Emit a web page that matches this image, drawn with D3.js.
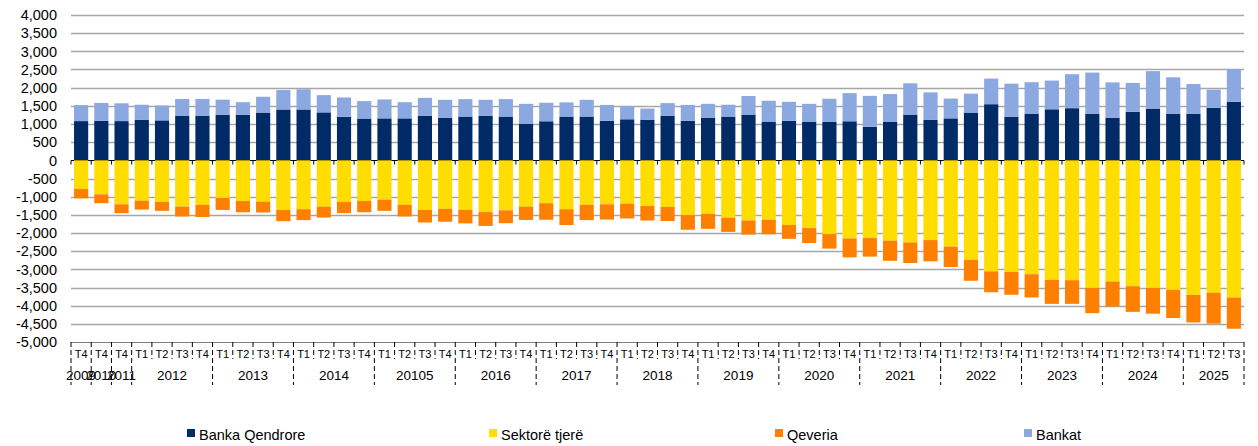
<!DOCTYPE html>
<html>
<head>
<meta charset="utf-8">
<script src="https://cdn.jsdelivr.net/npm/d3@7"></script>
<style>
  html, body { margin: 0; padding: 0; background: #fff; }
  svg { display: block; font-family: "Liberation Sans", Arial, sans-serif; }
</style>
</head>
<body>
<svg id="chart" width="1258" height="446"></svg>
<script>
// ---- Data ----
const quarters = ["T4","T4","T4",
  "T1","T2","T3","T4","T1","T2","T3","T4","T1","T2","T3","T4","T1","T2","T3","T4",
  "T1","T2","T3","T4","T1","T2","T3","T4","T1","T2","T3","T4","T1","T2","T3","T4",
  "T1","T2","T3","T4","T1","T2","T3","T4","T1","T2","T3","T4","T1","T2","T3","T4",
  "T1","T2","T3","T4","T1","T2","T3"];
const yearLabels = ["2009","2010","2011","2012","2013","2014","20105","2016","2017","2018","2019","2020","2021","2022","2023","2024","2025"];
const yearSpans  = [1,1,1,4,4,4,4,4,4,4,4,4,4,4,4,4,3];

const bankaQendrore = [1080,1090,1080,1120,1100,1230,1230,1250,1250,1315,
  1400,1400,1320,1200,1150,1155,1155,1230,1175,1205,
  1230,1205,1010,1075,1205,1205,1090,1130,1120,1230,
  1090,1175,1205,1260,1055,1090,1065,1055,1075,925,
  1055,1260,1120,1155,1315,1545,1195,1285,1405,1435,
  1285,1175,1335,1425,1285,1285,1445,1610];
const bankat = [440,490,490,410,410,460,460,420,350,435,
  535,555,475,530,480,520,445,490,490,480,
  435,480,545,510,390,460,435,360,305,345,
  435,380,325,510,585,520,490,640,775,850,
  770,860,750,545,520,705,915,865,790,935,
  1130,970,795,1030,1000,815,500,900];
const sektoreTjere = [-790,-935,-1210,-1110,-1145,-1275,-1225,-1035,-1120,-1135,
  -1365,-1345,-1275,-1145,-1120,-1080,-1225,-1365,-1335,-1365,
  -1425,-1375,-1275,-1180,-1345,-1225,-1210,-1190,-1255,-1280,
  -1510,-1475,-1580,-1655,-1635,-1780,-1865,-2030,-2150,-2140,
  -2210,-2260,-2195,-2375,-2740,-3055,-3070,-3135,-3290,-3300,
  -3510,-3335,-3465,-3510,-3565,-3700,-3645,-3775];
const qeveria = [-255,-245,-245,-245,-245,-270,-335,-330,-310,-300,
  -310,-300,-300,-310,-310,-310,-320,-345,-355,-370,
  -380,-355,-365,-455,-435,-420,-420,-410,-400,-390,
  -400,-410,-390,-390,-400,-380,-410,-400,-520,-510,
  -555,-565,-585,-560,-575,-575,-630,-640,-660,-650,
  -695,-685,-705,-710,-775,-760,-850,-860];

const seriesNames = ["Banka Qendrore","Sektorë tjerë","Qeveria","Bankat"];
const seriesColors = ["#002B66","#FFDD00","#FF7F00","#8CA8E0"];
const yTicks = [4000,3500,3000,2500,2000,1500,1000,500,0,-500,-1000,-1500,-2000,-2500,-3000,-3500,-4000,-4500,-5000];

// ---- Build table ----
const table = quarters.map((q, i) => ({
  idx: i,
  "Banka Qendrore": bankaQendrore[i],
  "Sektorë tjerë": sektoreTjere[i],
  "Qeveria": qeveria[i],
  "Bankat": bankat[i]
}));

(function draw() {
const svg = d3.select("#chart");
const pl = 71, pr = 1244, pt = 15, pb = 342;

const x = d3.scaleBand().domain(d3.range(quarters.length)).range([pl, pr])
  .paddingInner(0.3).paddingOuter(0.15);
const y = d3.scaleLinear().domain([-5000, 4000]).range([pb, pt]);
const boundary = i => pl + i * (pr - pl) / quarters.length;

// gridlines
svg.append("g").selectAll("line").data(yTicks.filter(v => v !== 0 && v !== -5000)).join("line")
  .attr("x1", pl).attr("x2", pr)
  .attr("y1", d => Math.round(y(d)) + 0.5).attr("y2", d => Math.round(y(d)) + 0.5)
  .attr("stroke", "#a6a6a6").attr("stroke-width", 1.3);

// y labels
const fmt = d3.formatLocale({decimal: ".", thousands: ",", grouping: [3], currency: ["", ""], minus: "-"}).format(",");
svg.append("g").selectAll("text").data(yTicks).join("text")
  .attr("x", 57).attr("y", d => y(d)).attr("dy", "0.36em")
  .attr("text-anchor", "end").attr("font-size", 14.5).attr("fill", "#000")
  .text(d => fmt(d));

// zero axis line with ticks
const y0 = Math.round(y(0)) + 0.5;
svg.append("line").attr("x1", pl).attr("x2", pr).attr("y1", y0).attr("y2", y0)
  .attr("stroke", "#000").attr("stroke-width", 1.2);
svg.append("g").selectAll("line").data(d3.range(quarters.length + 1)).join("line")
  .attr("x1", i => boundary(i)).attr("x2", i => boundary(i))
  .attr("y1", y0).attr("y2", y0 + 4)
  .attr("stroke", "#000").attr("stroke-width", 1);

// stacked bars
const stack = d3.stack().keys(seriesNames).offset(d3.stackOffsetDiverging);
const layers = stack(table);
const color = d3.scaleOrdinal().domain(seriesNames).range(seriesColors);
svg.append("g").selectAll("g").data(layers).join("g")
  .attr("fill", d => color(d.key))
  .selectAll("rect").data(d => d).join("rect")
  .attr("x", d => x(d.data.idx))
  .attr("width", x.bandwidth())
  .attr("y", d => y(Math.max(d[0], d[1])))
  .attr("height", d => Math.abs(y(d[0]) - y(d[1])));

// bottom axis
svg.append("line").attr("x1", pl).attr("x2", pr).attr("y1", pb + 0.5).attr("y2", pb + 0.5)
  .attr("stroke", "#808080").attr("stroke-width", 1.2);

// year boundaries
const yearStarts = [];
let acc = 0;
yearSpans.forEach(s => { yearStarts.push(acc); acc += s; });
const yearBoundarySet = new Set([...yearStarts, quarters.length]);

svg.append("g").selectAll("line").data(d3.range(quarters.length + 1)).join("line")
  .attr("x1", i => boundary(i)).attr("x2", i => boundary(i))
  .attr("y1", pb).attr("y2", i => yearBoundarySet.has(i) ? 385 : 359)
  .attr("stroke", "#000").attr("stroke-width", 1)
  .attr("stroke-dasharray", "5,3");

// quarter labels
svg.append("g").selectAll("text").data(quarters).join("text")
  .attr("x", (d, i) => x(i) + x.bandwidth() / 2).attr("y", 358)
  .attr("text-anchor", "middle").attr("font-size", 11).attr("fill", "#000")
  .text(d => d);

// year labels
svg.append("g").selectAll("text").data(yearLabels).join("text")
  .attr("x", (d, i) => (boundary(yearStarts[i]) + boundary(yearStarts[i] + yearSpans[i])) / 2)
  .attr("y", 380)
  .attr("text-anchor", "middle").attr("font-size", 13.5).attr("fill", "#000")
  .text(d => d);

// legend
const legendX = [187, 489, 775, 1024];
const lg = svg.append("g").selectAll("g").data(seriesNames).join("g")
  .attr("transform", (d, i) => `translate(${legendX[i]},429)`);
lg.append("rect").attr("width", 8).attr("height", 8).attr("fill", d => color(d));
lg.append("text").attr("x", 12).attr("y", 11).attr("font-size", 14.5).attr("fill", "#000").text(d => d);
})();
</script>
</body>
</html>
